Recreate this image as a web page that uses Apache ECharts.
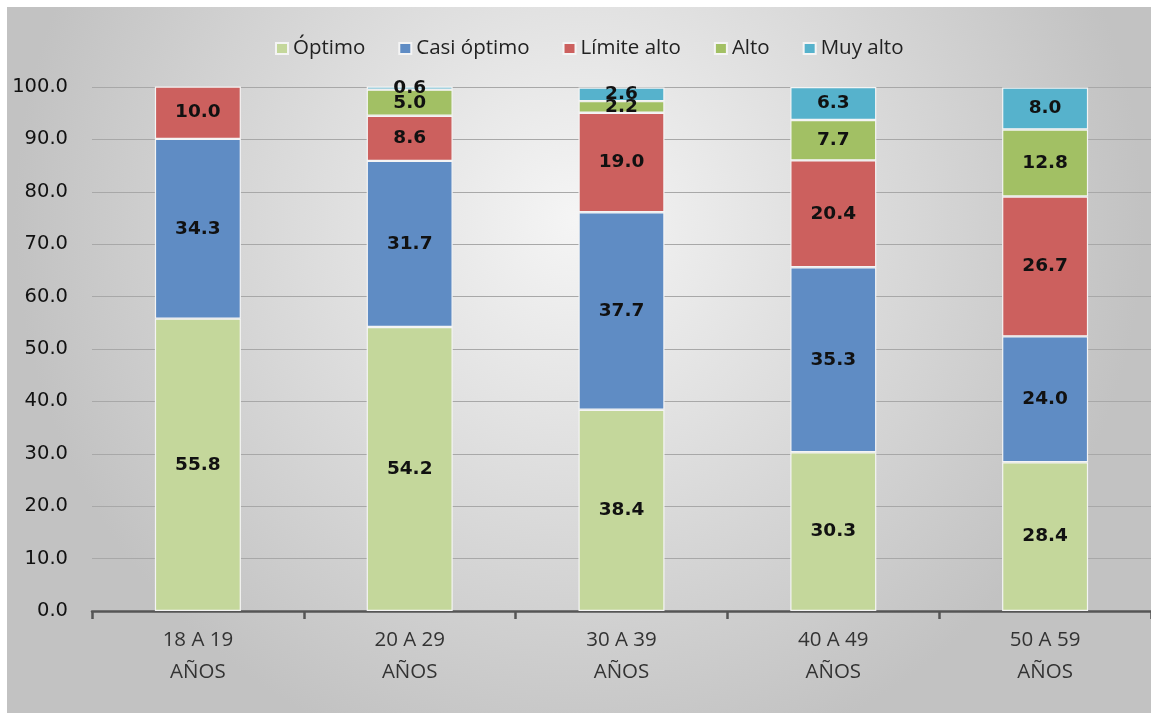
<!DOCTYPE html>
<html>
<head>
<meta charset="utf-8">
<script src="https://cdn.jsdelivr.net/npm/echarts@6/dist/echarts.min.js"></script>
<style>
html,body{margin:0;padding:0;background:#fff;width:1151px;height:713px;overflow:hidden}
#c{position:absolute;left:7px;top:7px;width:1144px;height:706px}
</style>
</head>
<body>
<div id="c"></div>
<script>
const categories = ['18 A 19\nAÑOS','20 A 29\nAÑOS','30 A 39\nAÑOS','40 A 49\nAÑOS','50 A 59\nAÑOS'];
const seriesNames = ['Óptimo','Casi óptimo','Límite alto','Alto','Muy alto'];
const optimo     = [55.8, 54.2, 38.4, 30.3, 28.4];
const casiOptimo = [34.3, 31.7, 37.7, 35.3, 24.0];
const limiteAlto = [10.0, 8.6, 19.0, 20.4, 26.7];
const alto       = [0, 5.0, 2.2, 7.7, 12.8];
const muyAlto    = [0, 0.6, 2.6, 6.3, 8.0];
const yTicks = [0,10,20,30,40,50,60,70,80,90,100];

const colors = ['#c4d79b','#5f8cc4','#cc605e','#a2c064','#56b2cc'];
const values = [optimo, casiOptimo, limiteAlto, alto, muyAlto];

const chart = echarts.init(document.getElementById('c'));
chart.setOption({
  animation:false,
  backgroundColor:{type:'radial',x:0.5,y:0.3,r:0.8,colorStops:[{offset:0,color:'#f5f5f5'},{offset:1,color:'#c2c2c2'}]},
  legend:{
    top:26,left:263,itemWidth:12,itemHeight:11,itemGap:33,
    icon:'rect',
    textStyle:{fontFamily:'Open Sans',fontSize:20.5,color:'#222'},
    data:seriesNames
  },
  grid:{left:85,right:-10,top:80,bottom:102},
  xAxis:{
    type:'category',data:categories,
    axisLine:{lineStyle:{color:'#555',width:2.5}},
    axisTick:{show:true,length:8,lineStyle:{color:'#555',width:2.5}},
    axisLabel:{fontFamily:'Open Sans',fontSize:20.5,color:'#333',lineHeight:32,margin:13}
  },
  yAxis:{
    type:'value',min:yTicks[0],max:yTicks[yTicks.length-1],interval:10,
    axisLine:{show:false},axisTick:{show:false},
    splitLine:{lineStyle:{color:'#a8a8a8',width:1.2}},
    axisLabel:{fontFamily:'DejaVu Sans',fontSize:19.5,color:'#111',margin:24,formatter:v=>v.toFixed(1)}
  },
  series: seriesNames.map((n,i)=>({
    name:n,type:'bar',stack:'t',barWidth:86,
    data:values[i],
    itemStyle:{color:colors[i],borderColor:'#f4f4f4',borderWidth:1.2},
    label:{show:true,position:'inside',fontFamily:'DejaVu Sans',fontWeight:'bold',fontSize:18.5,color:'#111',
      formatter:p=>p.value>0?p.value.toFixed(1):''}
  }))
});
</script>
</body>
</html>
